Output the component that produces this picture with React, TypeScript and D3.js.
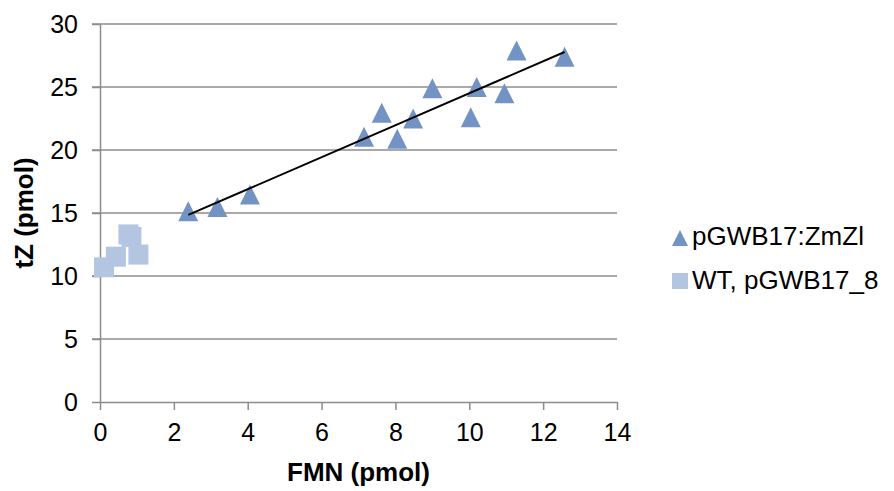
import React, { useRef, useEffect } from "react";
import * as d3 from "d3";

// pGWB17:ZmZl (triangles)
const zmX = [2.39, 3.18, 4.06, 7.15, 7.63, 8.05, 8.48, 9.0, 10.04, 10.2, 10.95, 11.28, 12.58];
const zmY = [15.14, 15.48, 16.47, 21.06, 22.96, 20.9, 22.5, 24.9, 22.6, 25.0, 24.5, 27.9, 27.4];

// WT, pGWB17_8 (squares)
const wtX = [0.11, 0.43, 1.04, 0.85, 0.77];
const wtY = [10.69, 11.53, 11.7, 13.1, 13.3];

const xTicks = [0, 2, 4, 6, 8, 10, 12, 14];
const yTicks = [0, 5, 10, 15, 20, 25, 30];
const seriesNames = ["pGWB17:ZmZl", "WT, pGWB17_8"];

const triColor = "#7393c4";
const sqColor = "#b4c5e1";
const gridColor = "#8c8c8c";

const tri = (w: number) => `M0,${-w / 2}L${w / 2},${w / 2}L${-w / 2},${w / 2}Z`;

const App = () => {
  const svgRef = useRef<SVGSVGElement>(null);

  useEffect(() => {
    if (!svgRef.current) return;
    const width = 894;
    const height = 491;
    const left = 100;
    const right = 617;
    const top = 24;
    const bottom = 402;
    const font = "'Liberation Sans', Arial, sans-serif";

    const svg = d3.select(svgRef.current).attr("width", width).attr("height", height);
    svg.selectAll("*").remove();

    const x = d3.scaleLinear().domain([0, 14]).range([left, right]);
    const y = d3.scaleLinear().domain([0, 30]).range([bottom, top]);

    // horizontal gridlines
    svg
      .append("g")
      .selectAll("line")
      .data(yTicks.filter((t) => t > 0))
      .join("line")
      .attr("x1", left - 8)
      .attr("x2", right)
      .attr("y1", (d) => y(d))
      .attr("y2", (d) => y(d))
      .attr("stroke", gridColor)
      .attr("stroke-width", 1.5);

    // y axis
    svg
      .append("g")
      .attr("transform", `translate(${left},0)`)
      .call(d3.axisLeft(y).tickValues(yTicks).tickSize(8).tickSizeOuter(0).tickPadding(14))
      .call((g) => g.select(".domain").attr("stroke", gridColor).attr("stroke-width", 1.5))
      .call((g) => g.selectAll(".tick line").attr("stroke", gridColor).attr("stroke-width", 1.5))
      .call((g) =>
        g.selectAll(".tick text").attr("font-family", font).attr("font-size", 25).attr("fill", "#000")
      );

    // x axis
    svg
      .append("g")
      .attr("transform", `translate(0,${bottom})`)
      .call(d3.axisBottom(x).tickValues(xTicks).tickSize(8).tickSizeOuter(0).tickPadding(13))
      .call((g) => g.select(".domain").attr("stroke", gridColor).attr("stroke-width", 1.5))
      .call((g) => g.selectAll(".tick line").attr("stroke", gridColor).attr("stroke-width", 1.5))
      .call((g) =>
        g.selectAll(".tick text").attr("font-family", font).attr("font-size", 25).attr("fill", "#000")
      );

    // squares
    svg
      .append("g")
      .selectAll("rect")
      .data(wtX.map((v, i) => [v, wtY[i]]))
      .join("rect")
      .attr("x", (d) => x(d[0]) - 10)
      .attr("y", (d) => y(d[1]) - 10)
      .attr("width", 20)
      .attr("height", 20)
      .attr("fill", sqColor);

    // triangles
    svg
      .append("g")
      .selectAll("path")
      .data(zmX.map((v, i) => [v, zmY[i]]))
      .join("path")
      .attr("transform", (d) => `translate(${x(d[0])},${y(d[1])})`)
      .attr("d", tri(20))
      .attr("fill", triColor);

    // linear trendline for triangles
    const mx = d3.mean(zmX)!;
    const my = d3.mean(zmY)!;
    const slope =
      d3.sum(zmX, (v, i) => (v - mx) * (zmY[i] - my)) / d3.sum(zmX, (v) => (v - mx) * (v - mx));
    const icpt = my - slope * mx;
    const [x0, x1] = d3.extent(zmX) as [number, number];
    svg
      .append("line")
      .attr("x1", x(x0))
      .attr("y1", y(icpt + slope * x0))
      .attr("x2", x(x1))
      .attr("y2", y(icpt + slope * x1))
      .attr("stroke", "#000")
      .attr("stroke-width", 2);

    // axis titles
    svg
      .append("text")
      .attr("x", (left + right) / 2)
      .attr("y", 481)
      .attr("text-anchor", "middle")
      .attr("font-family", font)
      .attr("font-weight", "bold")
      .attr("font-size", 26)
      .text("FMN (pmol)");

    svg
      .append("text")
      .attr("transform", `translate(33,${(top + bottom) / 2}) rotate(-90)`)
      .attr("text-anchor", "middle")
      .attr("font-family", font)
      .attr("font-weight", "bold")
      .attr("font-size", 26)
      .text("tZ (pmol)");

    // legend
    const lg = svg.append("g");
    lg.append("path").attr("transform", "translate(680,238)").attr("d", tri(16)).attr("fill", triColor);
    lg.append("rect").attr("x", 672).attr("y", 273).attr("width", 16).attr("height", 16).attr("fill", sqColor);
    lg.selectAll("text")
      .data(seriesNames)
      .join("text")
      .attr("x", 692)
      .attr("y", (d, i) => 245 + i * 44)
      .attr("font-family", font)
      .attr("font-size", 26)
      .text((d) => d);
  }, []);

  return (
    <div style={{ position: "absolute", left: 0, top: 0 }}>
      <svg ref={svgRef}></svg>
    </div>
  );
};

export default App;
